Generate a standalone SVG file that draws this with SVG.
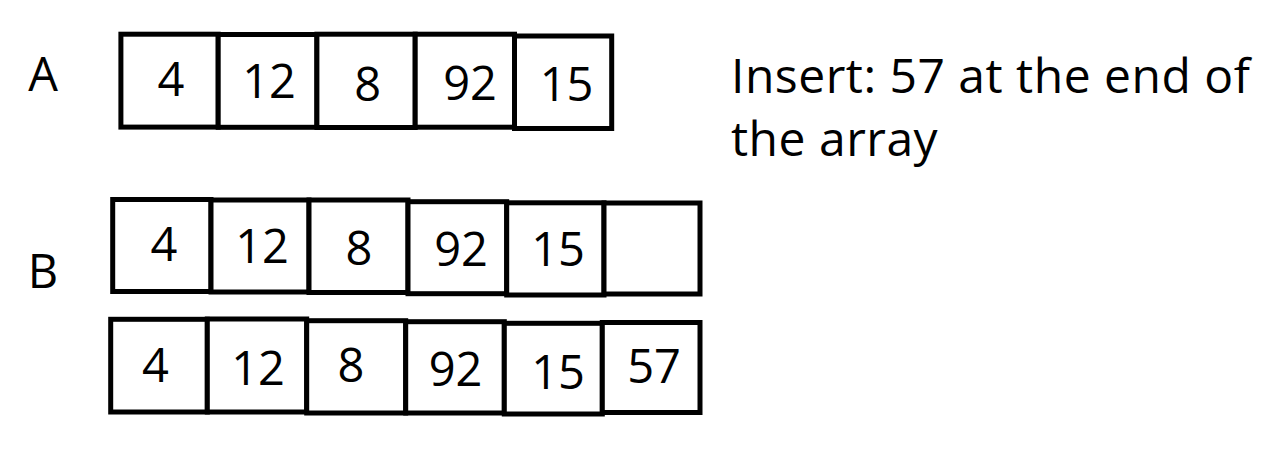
<svg xmlns="http://www.w3.org/2000/svg" width="1282" height="449" viewBox="0 0 1282 449">
<style>
.cell{fill:#fff;stroke:#000;stroke-width:5}
.num{font-family:"Open Sans","Noto Sans",sans-serif;font-size:47px;fill:#000;text-anchor:middle}
.lbl{font-family:"Open Sans","Noto Sans",sans-serif;font-size:47px;fill:#000}
.note{font-family:"Open Sans","Noto Sans",sans-serif;font-size:48px;letter-spacing:0.5px;fill:#000}
</style>
<rect width="1282" height="449" fill="#fff"/>
<g id="label-A"><text class="lbl" x="43" y="91" text-anchor="middle">A</text></g>
<g id="label-B"><text class="lbl" x="43" y="288" text-anchor="middle">B</text></g>
<g id="note"><text class="note" x="731" y="93">Insert: 57 at the end of</text><text class="note" x="731" y="156">the array</text></g>

<g id="rowA">
<g id="A1"><rect class="cell" x="120.9" y="34.2" width="97.3" height="92.9"/><text class="num" x="171" y="96">4</text></g>
<g id="A2"><rect class="cell" x="218.2" y="34.5" width="98.7" height="92.8"/><text class="num" x="269" y="98">12</text></g>
<g id="A3"><rect class="cell" x="316.9" y="34.2" width="98.3" height="93.3"/><text class="num" x="367.6" y="101">8</text></g>
<g id="A4"><rect class="cell" x="415.2" y="34.2" width="99.3" height="93"/><text class="num" x="470" y="100">92</text></g>
<g id="A5"><rect class="cell" x="514.5" y="36" width="97.2" height="92.5"/><text class="num" x="566.5" y="101">15</text></g>
</g>

<g id="rowB1">
<g id="B1-1"><rect class="cell" x="112.7" y="199.5" width="98.3" height="92"/><text class="num" x="164" y="261">4</text></g>
<g id="B1-2"><rect class="cell" x="211" y="200" width="98" height="92"/><text class="num" x="262" y="263">12</text></g>
<g id="B1-3"><rect class="cell" x="309" y="200" width="99" height="92.5"/><text class="num" x="359" y="265">8</text></g>
<g id="B1-4"><rect class="cell" x="408" y="201.7" width="98.7" height="92"/><text class="num" x="461" y="266">92</text></g>
<g id="B1-5"><rect class="cell" x="506.7" y="202.8" width="97.3" height="92.2"/><text class="num" x="558" y="266">15</text></g>
<g id="B1-6"><rect class="cell" x="604" y="203" width="96" height="91"/></g>
</g>

<g id="rowB2">
<g id="B2-1"><rect class="cell" x="110.7" y="319.3" width="96.6" height="92.7"/><text class="num" x="155.5" y="382">4</text></g>
<g id="B2-2"><rect class="cell" x="207.3" y="319" width="99.4" height="93"/><text class="num" x="258" y="385">12</text></g>
<g id="B2-3"><rect class="cell" x="306.7" y="320.7" width="99" height="92.3"/><text class="num" x="351" y="382">8</text></g>
<g id="B2-4"><rect class="cell" x="405.7" y="321.7" width="98.6" height="91.3"/><text class="num" x="455.5" y="386">92</text></g>
<g id="B2-5"><rect class="cell" x="504.3" y="323.3" width="98" height="90.7"/><text class="num" x="558" y="389">15</text></g>
<g id="B2-6"><rect class="cell" x="602.3" y="322.5" width="97.7" height="90"/><text class="num" x="654" y="383">57</text></g>
</g>

<g id="connectors"/>
</svg>
